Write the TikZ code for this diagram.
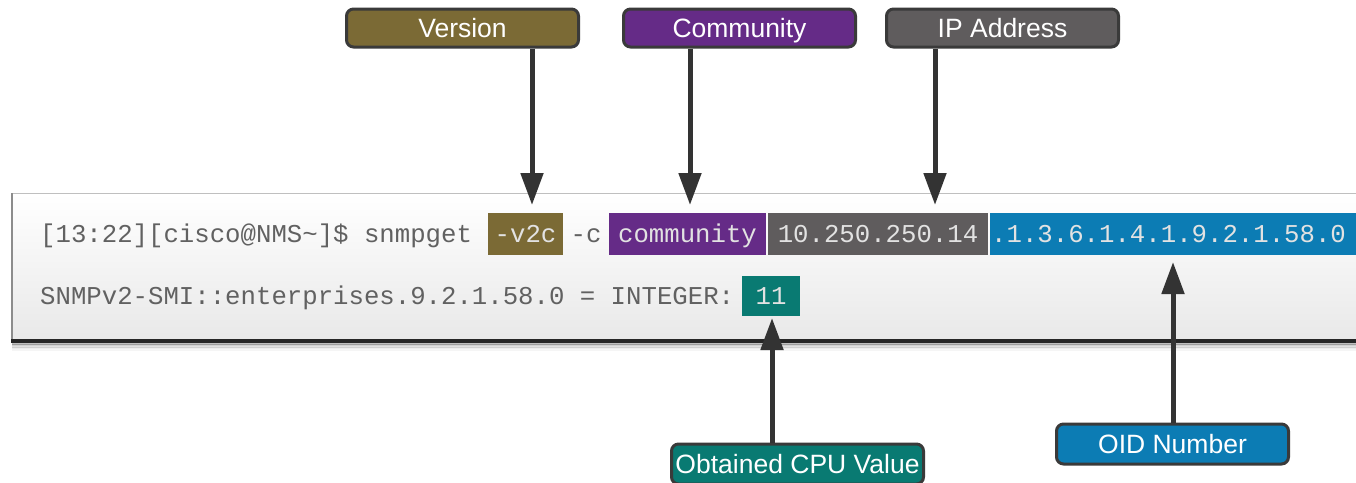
\documentclass[tikz,border=0pt]{standalone}
\usepackage{fontspec}
\setmainfont{Liberation Sans}
\newfontfamily\monof{Liberation Mono}
\usetikzlibrary{arrows.meta}
\definecolor{olivebox}{HTML}{7B6A35}
\definecolor{purplebox}{HTML}{652B87}
\definecolor{graybox}{HTML}{5F5C5D}
\definecolor{bluebox}{HTML}{0C7CB4}
\definecolor{tealbox}{HTML}{097A72}
\definecolor{bordergray}{HTML}{3A3A3A}
\definecolor{arrowgray}{HTML}{333333}
\definecolor{termtext}{HTML}{616161}
\definecolor{hltext}{HTML}{E2E2E2}
\begin{document}
\begin{tikzpicture}[x=1pt,y=-1pt,
  tag/.style={draw=bordergray, line width=3pt, rounded corners=7pt, text=white,
    font=\fontsize{26.5}{30}\selectfont, text height=19pt, text depth=0pt,
    minimum height=38pt, minimum width=232pt, inner sep=0pt},
  hl/.style={inner sep=0pt, minimum height=42pt, text=hltext, text height=17pt, text depth=1pt,
    font=\monof\fontsize{25.7}{30}\selectfont},
  plain/.style={inner sep=0pt, text=termtext, text height=17pt, text depth=1pt,
    font=\monof\fontsize{25.7}{30}\selectfont},
  arr/.style={draw=arrowgray, line width=5pt, -{Triangle[width=22pt,length=32pt]}}]
\useasboundingbox (0,0) rectangle (1356,482);

% terminal panel
\foreach \i/\o in {1/0.25,2/0.18,3/0.12,4/0.07,5/0.04}{
  \draw[black, opacity=\o, line width=2pt] (12,342+\i*1.6) -- (1360,342+\i*1.6);
}
\path[top color=white, bottom color=black!9] (12,193) rectangle (1360,342);
\draw[black!25, line width=1pt] (1360,193) -- (12,193);
\draw[black!45, line width=1.5pt] (12,193) -- (12,342);
\draw[black!85, line width=3.5pt] (11,341) -- (1360,341);

% line 1
\node[plain, anchor=west] (prompt) at (40,234) {[13:22][cisco@NMS\textasciitilde]\$ snmpget};
\node[hl, fill=olivebox, minimum width=75pt] (v2c) at (525.5,234) {-v2c};
\node[plain] (dashc) at (586,234) {-c};
\node[hl, fill=purplebox, minimum width=157pt] (comm) at (687.5,234) {community};
\node[hl, fill=graybox, minimum width=220pt] (ip) at (878,234) {10.250.250.14};
\node[hl, fill=bluebox, minimum width=370pt, anchor=west] (oid) at (990,234) {};
\node[hl, anchor=west] (oidtext) at (991,234) {.1.3.6.1.4.1.9.2.1.58.0};

% line 2
\node[plain, anchor=west] (resp) at (40,296) {SNMPv2-SMI::enterprises.9.2.1.58.0 = INTEGER:};
\node[hl, fill=tealbox, minimum width=58pt, minimum height=40pt] (val) at (771,296) {11};

% tags
\node[tag, fill=olivebox] (ver) at (462.5,28) {Version};
\node[tag, fill=purplebox] (comtag) at (739.5,28) {Community};
\node[tag, fill=graybox] (iptag) at (1002.5,28) {IP Address};
\node[tag, fill=bluebox, minimum height=40pt] (oidtag) at (1172.5,444) {OID Number};
\node[tag, fill=tealbox, minimum width=252pt, minimum height=40pt] (cputag) at (797.5,464) {Obtained CPU Value};

% arrow ends
\coordinate (vtip) at (532,205);
\coordinate (ctip) at (690,205);
\coordinate (itip) at (935,205);
\coordinate (ptip) at (772,318);
\coordinate (otip) at (1173,262);

\draw[arr] (ver.south -| vtip) -- (vtip);
\draw[arr] (comtag.south -| ctip) -- (ctip);
\draw[arr] (iptag.south -| itip) -- (itip);
\draw[arr] (cputag.north -| ptip) -- (ptip);
\draw[arr] (oidtag.north -| otip) -- (otip);
\end{tikzpicture}
\end{document}
